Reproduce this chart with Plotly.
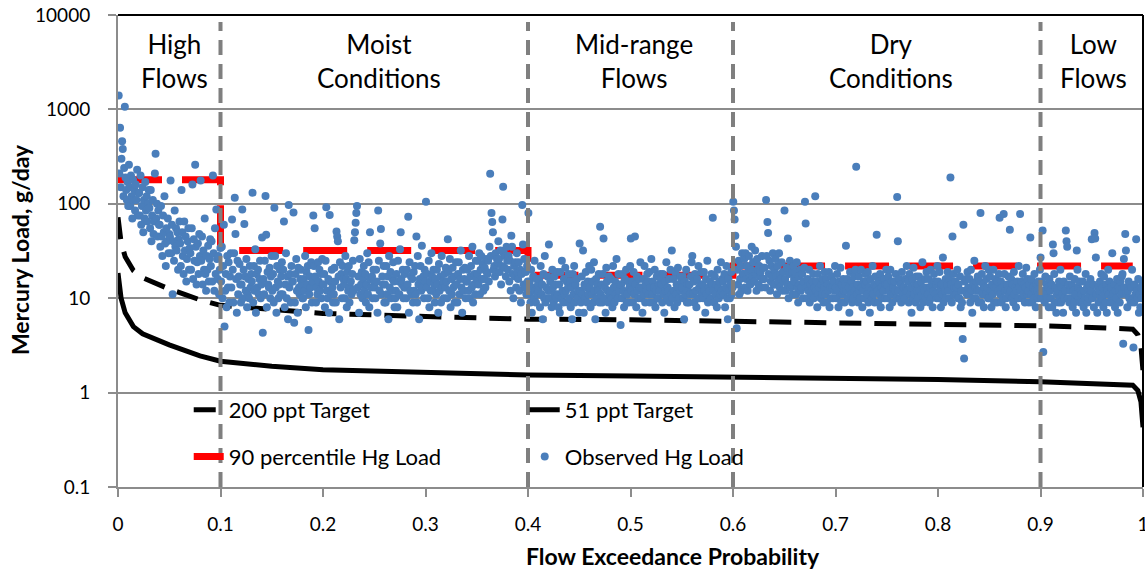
import plotly.graph_objects as go

# ---- Load duration curve data -------------------------------------------
# Flow exceedance probabilities for the target load curves
ldc_exceedance = [0, 0.003, 0.007, 0.015, 0.024, 0.035, 0.05, 0.065, 0.08, 0.1,
                  0.15, 0.2, 0.3, 0.4, 0.5, 0.6, 0.7, 0.8, 0.9, 0.95, 0.98,
                  0.99, 0.995, 0.998, 1.0]
# Allowable load at 51 ppt, g/day
target_51ppt = [18.5, 10, 7, 5, 4.2, 3.7, 3.2, 2.8, 2.45, 2.15,
                1.9, 1.75, 1.62, 1.54, 1.5, 1.46, 1.42, 1.38, 1.3, 1.26, 1.23,
                1.2, 1.05, 0.8, 0.43]
# Allowable load at 200 ppt, g/day
target_200ppt = [72, 39, 27.5, 19.6, 16.5, 14.5, 12.5, 11, 9.6, 8.4,
                 7.5, 6.9, 6.4, 6.0, 5.9, 5.7, 5.6, 5.4, 5.1, 4.9, 4.8,
                 4.7, 4.1, 3.1, 1.7]

# Flow regime zones and the 90th percentile observed load in each
zone_edges = [0, 0.1, 0.4, 0.6, 0.9, 0.99]
zone_names = ["High<br>Flows", "Moist<br>Conditions", "Mid-range<br>Flows",
              "Dry<br>Conditions", "Low<br>Flows"]
zone_label_x = [0.055, 0.255, 0.503, 0.754, 0.952]
p90_load = [180, 32, 17.5, 22, 22]

# Observed mercury loads (g/day), ordered from highest to lowest flow
observed_load = [
    1400, 210, 640, 150, 300, 460, 380, 120, 240, 1070, 190, 140, 110, 170, 95,
    260, 150, 95, 200, 120, 70, 180, 110, 140, 85, 160, 110, 230, 75, 130,
    130, 75, 200, 60, 95, 150, 50, 110, 70, 170, 85, 120, 65, 100, 140,
    90, 55, 140, 40, 75, 110, 48, 65, 210, 340, 70, 100, 45, 85, 60,
    60, 35, 95, 45, 28, 75, 50, 120, 38, 22, 55, 40, 70, 30, 48,
    45, 176, 30, 60, 11, 40, 25, 85, 35, 55, 32, 50, 20, 42, 65,
    38, 22, 140, 50, 28, 18, 65, 32, 45, 15, 26, 40, 55, 20, 34,
    30, 20, 55, 160, 16, 42, 25, 260, 35, 14, 24, 38, 18, 48, 28,
    176, 25, 45, 14, 32, 20, 70, 18, 12, 28, 20, 36, 15, 26, 42,
    22, 40, 15, 200, 30, 12, 55, 18, 87, 26, 16, 28, 11, 20, 34,
    15, 35, 10, 22, 60, 5.0, 12, 18, 8, 28, 13, 24, 9, 17, 30,
    13, 68, 20, 9, 30, 116, 48, 16, 7, 25, 11, 17, 23, 14, 9,
    14, 87, 10, 20, 61, 17, 12, 26, 8, 11, 16, 10, 22, 13, 18,
    15, 131, 9, 22, 12, 33, 7, 18, 13, 20, 11, 16, 25, 10, 14,
    44, 4.3, 16, 11, 25, 121, 47, 8, 19, 14, 13, 21, 10, 17, 28,
    12, 18, 9, 91, 28, 13, 7, 22, 15, 10, 14, 20, 11, 17, 24,
    11, 20, 65, 8, 14, 30, 10, 17, 6, 97, 13, 18, 9, 22, 15,
    15, 81, 5.5, 9, 18, 26, 12, 7, 21, 13, 11, 16, 20, 14, 10,
    10, 16, 12, 28, 8, 19, 14, 22, 4.6, 11, 17, 13, 24, 9, 15,
    75, 22, 55, 17, 9, 13, 11, 24, 15, 20, 12, 18, 10, 26, 14,
    14, 18, 8, 25, 92, 12, 10, 16, 7, 76, 15, 11, 20, 13, 9,
    11, 21, 15, 9, 51, 45, 40, 17, 6, 24, 13, 18, 10, 22, 16,
    14, 10, 28, 16, 8, 19, 12, 22, 9, 13, 15, 11, 18, 25, 12,
    41, 50, 63, 80, 95, 13, 17, 7, 26, 11, 14, 19, 10, 16, 22,
    12, 18, 9, 14, 30, 11, 24, 8, 50, 16, 13, 17, 10, 20, 15,
    13, 10, 20, 15, 7, 85, 25, 12, 38, 54, 11, 17, 14, 22, 9,
    14, 9, 22, 11, 17, 6, 28, 13, 19, 10, 12, 16, 24, 15, 8,
    10, 12, 18, 8, 25, 15, 11, 33, 50, 16, 14, 20, 10, 13, 18,
    13, 10, 20, 14, 73, 7, 24, 12, 17, 11, 16, 9, 19, 12, 22,
    11, 45, 9, 28, 14, 6, 16, 22, 12, 36, 13, 17, 10, 20, 15,
    105, 13, 18, 10, 25, 8, 15, 12, 30, 17, 12, 20, 14, 9, 16,
    11, 20, 14, 7, 23, 12, 17, 9, 28, 13, 15, 10, 18, 13, 21,
    15, 10, 42, 19, 12, 26, 8, 16, 11, 21, 13, 17, 9, 14, 24,
    14, 9, 18, 24, 11, 16, 32, 13, 7, 20, 12, 16, 21, 10, 15,
    15, 20, 12, 28, 10, 17, 22, 13, 35, 9, 14, 18, 11, 25, 16,
    18, 25, 14, 30, 11, 20, 28, 16, 23, 12, 16, 21, 13, 26, 19,
    18, 25, 15, 35, 208, 28, 80, 64, 50, 20, 22, 17, 30, 19, 26,
    24, 40, 26, 19, 32, 14, 22, 68, 152, 30, 21, 28, 17, 35, 25,
    20, 28, 15, 25, 12, 46, 35, 18, 10, 22, 17, 24, 13, 30, 19,
    16, 24, 12, 20, 9, 18, 97, 37, 14, 26, 13, 19, 11, 22, 15,
    80, 11, 15, 9, 20, 7, 13, 17, 10, 25, 12, 9, 16, 11, 14,
    12, 16, 8, 22, 11, 14, 6, 18, 10, 28, 9, 13, 10, 17, 12,
    37, 10, 15, 12, 8, 20, 13, 9, 17, 11, 14, 10, 19, 11, 8,
    14, 7, 19, 10, 25, 12, 9, 16, 11, 21, 12, 15, 9, 13, 18,
    10, 15, 8, 13, 6, 18, 11, 22, 9, 14, 11, 16, 10, 12, 7,
    38, 12, 9, 17, 11, 32, 7, 14, 10, 19, 13, 9, 15, 11, 22,
    13, 8, 20, 11, 15, 9, 24, 12, 6, 16, 10, 14, 12, 18, 9,
    57, 11, 14, 9, 18, 43, 10, 13, 7, 21, 15, 12, 9, 17, 11,
    12, 16, 10, 8, 22, 13, 9, 15, 11, 26, 13, 10, 18, 12, 14,
    5.2, 14, 10, 18, 12, 8, 16, 11, 20, 9, 11, 15, 9, 13, 22,
    43, 12, 15, 9, 19, 11, 45, 14, 8, 17, 12, 10, 16, 13, 24,
    10, 13, 7, 16, 11, 22, 9, 14, 12, 18, 15, 11, 19, 9, 13,
    26, 11, 15, 9, 13, 20, 8, 12, 17, 10, 10, 14, 12, 18, 16,
    14, 9, 18, 11, 7, 15, 12, 24, 10, 13, 12, 16, 9, 20, 11,
    32, 10, 16, 12, 8, 19, 11, 14, 9, 21, 13, 10, 17, 12, 15,
    13, 17, 10, 6, 15, 11, 20, 9, 14, 12, 9, 14, 11, 17, 24,
    28, 11, 15, 9, 18, 12, 8, 16, 10, 22, 13, 10, 14, 19, 11,
    14, 10, 19, 12, 7, 16, 11, 25, 9, 13, 12, 15, 10, 18, 14,
    71, 12, 9, 17, 11, 14, 8, 20, 13, 10, 15, 11, 24, 12, 16,
    15, 11, 18, 8, 13, 22, 10, 6, 16, 12, 10, 14, 19, 11, 13,
    105, 85, 68, 46, 35, 4.8, 20, 14, 25, 11, 16, 22, 12, 30, 18,
    18, 26, 13, 30, 16, 22, 12, 19, 28, 15, 14, 20, 35, 17, 24,
    24, 15, 32, 18, 12, 26, 20, 14, 22, 17, 19, 13, 28, 16, 21,
    16, 21, 13, 110, 28, 64, 49, 18, 25, 12, 15, 22, 17, 30, 14,
    20, 14, 26, 17, 11, 22, 15, 30, 13, 18, 16, 24, 12, 19, 15,
    85, 16, 12, 21, 14, 43, 10, 18, 25, 13, 14, 19, 11, 22, 16,
    15, 19, 11, 24, 13, 9, 17, 14, 20, 12, 13, 18, 10, 15, 21,
    105, 62, 13, 10, 16, 12, 20, 9, 14, 11, 12, 15, 18, 10, 13,
    120, 12, 15, 8, 18, 11, 13, 22, 10, 14, 11, 16, 9, 13, 19,
    11, 16, 9, 14, 12, 19, 8, 13, 10, 17, 13, 10, 15, 12, 22,
    13, 10, 18, 12, 8, 15, 11, 21, 9, 14, 11, 16, 12, 9, 14,
    36, 12, 16, 10, 13, 7, 19, 11, 15, 9, 13, 10, 17, 12, 20,
    247, 11, 14, 9, 17, 12, 10, 20, 13, 8, 12, 15, 10, 14, 18,
    15, 11, 19, 9, 13, 7, 16, 12, 10, 22, 11, 14, 9, 17, 13,
    47, 12, 9, 15, 11, 18, 8, 13, 10, 16, 12, 16, 10, 14, 20,
    14, 10, 17, 12, 8, 20, 11, 15, 9, 13, 11, 15, 12, 18, 10,
    118, 40, 12, 16, 10, 14, 9, 19, 11, 13, 13, 10, 16, 12, 22,
    12, 15, 9, 18, 11, 13, 7, 16, 10, 21, 11, 14, 9, 17, 12,
    14, 10, 17, 12, 8, 15, 11, 24, 9, 13, 12, 16, 10, 19, 13,
    11, 16, 9, 13, 20, 10, 14, 8, 12, 18, 15, 11, 14, 10, 22,
    15, 10, 19, 12, 8, 14, 11, 27, 9, 13, 12, 16, 10, 14, 19,
    12, 16, 10, 190, 14, 9, 45, 18, 11, 13, 15, 11, 13, 20, 10,
    14, 10, 17, 8, 12, 9, 3.7, 60, 2.3, 15, 12, 16, 11, 19, 13,
    11, 16, 9, 20, 12, 7, 14, 10, 25, 13, 10, 15, 12, 17, 9,
    12, 15, 80, 9, 18, 11, 14, 8, 13, 22, 11, 16, 13, 10, 20,
    10, 17, 12, 8, 14, 11, 20, 9, 13, 16, 13, 9, 15, 12, 18,
    71, 11, 15, 9, 13, 10, 78, 18, 12, 8, 10, 14, 12, 17, 11,
    53, 12, 16, 10, 14, 9, 19, 11, 13, 8, 12, 15, 10, 22, 13,
    78, 12, 15, 10, 18, 11, 14, 9, 13, 21, 11, 16, 12, 9, 14,
    44, 11, 16, 9, 13, 10, 18, 12, 8, 14, 12, 10, 15, 11, 20,
    27, 10, 15, 52, 2.7, 12, 9, 17, 11, 14, 10, 13, 8, 16, 12,
    10, 14, 8, 37, 30, 18, 9, 13, 7, 11, 12, 9, 15, 10, 20,
    9, 13, 11, 7, 15, 10, 12, 52, 40, 35, 10, 14, 9, 17, 12,
    10, 14, 8, 12, 9, 16, 11, 7, 32, 20, 13, 10, 15, 9, 12,
    11, 9, 15, 8, 12, 10, 18, 7, 13, 9, 10, 14, 11, 16, 12,
    42, 10, 14, 8, 49, 43, 27, 11, 7, 13, 9, 12, 15, 10, 18,
    10, 13, 8, 17, 11, 9, 14, 7, 12, 20, 11, 15, 9, 13, 10,
    30, 11, 9, 14, 8, 12, 10, 16, 7, 13, 12, 9, 15, 11, 17,
    18, 3.3, 26, 13, 48, 32, 11, 8, 12, 15, 10, 14, 9, 13, 20,
    10, 3.0, 9, 14, 11, 42, 12, 10, 16, 7, 11, 8, 13, 10, 15,
]

# Plotting position (flow exceedance) of each observation by its flow rank
n_obs = len(observed_load)
observed_exceedance = [(i + 1) / (n_obs + 1) for i in range(n_obs)]

# 90th percentile step line across the flow zones
p90_x, p90_y = [], []
for i, val in enumerate(p90_load):
    p90_x += [zone_edges[i], zone_edges[i + 1]]
    p90_y += [val, val]

FONT = "Lato"
GRID = "#8c8c8c"

fig = go.Figure()

fig.add_trace(go.Scatter(
    x=ldc_exceedance, y=target_200ppt, mode="lines", name="200 ppt Target",
    line=dict(color="black", width=5, dash="22px,13px"), legend="legend",
))
fig.add_trace(go.Scatter(
    x=ldc_exceedance, y=target_51ppt, mode="lines", name="51 ppt Target",
    line=dict(color="black", width=5), legend="legend",
))
fig.add_trace(go.Scatter(
    x=p90_x, y=p90_y, mode="lines", name="90 percentile Hg Load",
    line=dict(color="#ff0000", width=7, dash="44px,20px"), legend="legend2",
))
fig.add_trace(go.Scatter(
    x=observed_exceedance, y=observed_load, mode="markers",
    name="Observed Hg Load",
    marker=dict(color="#4a7ebb", size=8, line=dict(width=0)),
    legend="legend2",
))

# Dashed dividers between flow zones
for edge in zone_edges[1:-1]:
    fig.add_shape(type="line", x0=edge, x1=edge, y0=0, y1=0.985,
                  xref="x", yref="y domain",
                  line=dict(color="#7f7f7f", width=4, dash="15px,9px"))

# Black frame along the top and right of the plot area
fig.add_shape(type="line", x0=0, x1=1, y0=1, y1=1, xref="x domain",
              yref="y domain", line=dict(color="black", width=2))
fig.add_shape(type="line", x0=1, x1=1, y0=0, y1=1, xref="x domain",
              yref="y domain", line=dict(color="black", width=2))

# Zone labels
for name, xpos in zip(zone_names, zone_label_x):
    fig.add_annotation(x=xpos, y=0.976, xref="x", yref="paper",
                       text=name, showarrow=False, yanchor="top",
                       font=dict(family=FONT, size=26, color="black"))

# Axis titles
fig.add_annotation(x=0.687, y=-0.146, xref="paper", yref="paper",
                   xanchor="right", yanchor="middle", showarrow=False,
                   text="<b>Flow Exceedance Probability</b>",
                   font=dict(family=FONT, size=23, color="black"))
fig.add_annotation(x=-0.0956, y=0.502, xref="paper", yref="paper",
                   xanchor="center", yanchor="middle", showarrow=False,
                   textangle=-90, text="<b>Mercury Load, g/day</b>",
                   font=dict(family=FONT, size=23, color="black"))

legend_common = dict(orientation="h", bgcolor="rgba(0,0,0,0)",
                     font=dict(family=FONT, size=22, color="black"),
                     entrywidth=291, entrywidthmode="pixels",
                     xanchor="left", yanchor="middle", itemwidth=30,
                     tracegroupgap=0)

fig.update_layout(
    width=1145, height=571,
    margin=dict(l=118, r=2, t=15, b=84),
    paper_bgcolor="white", plot_bgcolor="white",
    font=dict(family=FONT, color="black"),
    showlegend=True,
    legend=dict(x=0.069, y=0.163, **legend_common),
    legend2=dict(x=0.069, y=0.064, **legend_common),
)

fig.update_xaxes(
    range=[0, 1], tickvals=[i / 10 for i in range(11)],
    ticktext=["0", "0.1", "0.2", "0.3", "0.4", "0.5", "0.6", "0.7", "0.8",
              "0.9", "1"],
    showgrid=False, zeroline=False,
    showline=True, linecolor=GRID, linewidth=2,
    ticks="outside", ticklen=8, tickcolor=GRID, tickwidth=2,
    tickfont=dict(family=FONT, size=19, color="black"),
    ticklabelstandoff=11, ticklabeloverflow="allow",
    automargin=False,
)
fig.update_yaxes(
    type="log", range=[-1, 4],
    tickvals=[0.1, 1, 10, 100, 1000, 10000],
    ticktext=["0.1", "1", "10", "100", "1000", "10000"],
    showgrid=True, gridcolor=GRID, gridwidth=2,
    zeroline=False, showline=True, linecolor=GRID, linewidth=2,
    ticks="outside", ticklen=8, tickcolor=GRID, tickwidth=2,
    tickfont=dict(family=FONT, size=19, color="black"),
    ticklabelstandoff=14, ticklabeloverflow="allow",
    automargin=False,
)

fig.write_html("out.html")
